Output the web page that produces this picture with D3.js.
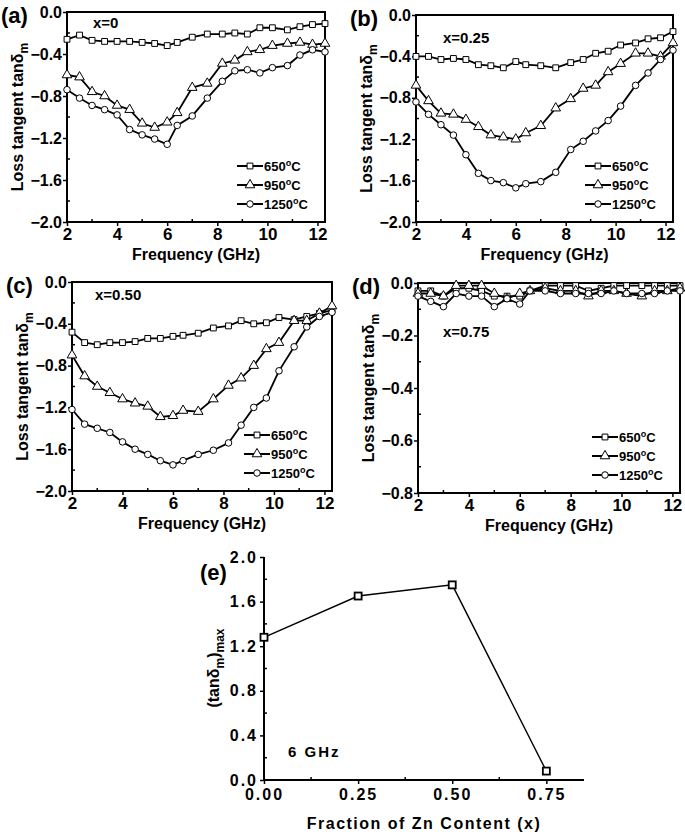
<!DOCTYPE html>
<html>
<head>
<meta charset="utf-8">
<script src="https://cdn.jsdelivr.net/npm/d3@7"></script>
<style>
  body { margin: 0; background: #fff; }
  svg text { font-family: "Liberation Sans", Arial, sans-serif; font-weight: bold; fill: #000; }
</style>
</head>
<body>
<svg id="fig" width="685" height="835"></svg>
<script>
// frequency points (GHz), shared by all four spectra
var freq = [2, 2.5, 3, 3.5, 4, 4.5, 5, 5.5, 6, 6.4, 7, 7.6, 8.2, 8.7, 9.2, 9.7, 10.2, 10.8, 11.3, 11.8, 12.3]
var tempLabels = ["650", "950", "1250"]

// x=0
var a650 = [-0.26,-0.22,-0.27,-0.28,-0.28,-0.28,-0.29,-0.30,-0.32,-0.29,-0.24,-0.21,-0.21,-0.20,-0.21,-0.15,-0.15,-0.17,-0.14,-0.12,-0.11]
var a950 = [-0.60,-0.62,-0.76,-0.80,-0.89,-0.93,-1.06,-1.10,-1.05,-0.96,-0.72,-0.68,-0.49,-0.46,-0.38,-0.36,-0.32,-0.30,-0.29,-0.31,-0.30]
var a1250 = [-0.74,-0.82,-0.89,-0.93,-0.98,-1.12,-1.17,-1.21,-1.26,-1.08,-0.99,-0.82,-0.66,-0.56,-0.55,-0.58,-0.53,-0.51,-0.41,-0.36,-0.38]
// x=0.25
var b650 = [-0.40,-0.40,-0.43,-0.42,-0.43,-0.48,-0.49,-0.51,-0.45,-0.48,-0.49,-0.51,-0.46,-0.43,-0.37,-0.35,-0.29,-0.27,-0.23,-0.22,-0.16]
var b950 = [-0.68,-0.83,-0.95,-0.96,-1.01,-1.08,-1.16,-1.18,-1.20,-1.14,-1.07,-0.90,-0.81,-0.71,-0.68,-0.55,-0.47,-0.37,-0.37,-0.40,-0.27]
var b1250 = [-0.84,-0.96,-1.06,-1.16,-1.35,-1.53,-1.60,-1.62,-1.67,-1.63,-1.61,-1.52,-1.30,-1.22,-1.12,-1.02,-0.88,-0.68,-0.56,-0.43,-0.34]
// x=0.50
var c650 = [-0.48,-0.58,-0.60,-0.58,-0.58,-0.57,-0.54,-0.54,-0.52,-0.51,-0.49,-0.44,-0.42,-0.37,-0.40,-0.39,-0.34,-0.36,-0.33,-0.30,-0.27]
var c950 = [-0.70,-0.90,-1.00,-1.06,-1.12,-1.16,-1.19,-1.29,-1.28,-1.23,-1.24,-1.12,-0.99,-0.92,-0.80,-0.64,-0.58,-0.37,-0.37,-0.30,-0.23]
var c1250 = [-1.22,-1.36,-1.40,-1.44,-1.53,-1.60,-1.65,-1.71,-1.75,-1.71,-1.65,-1.61,-1.54,-1.37,-1.20,-1.11,-0.85,-0.62,-0.43,-0.33,-0.29]
// x=0.75
var d650 = [-0.03,-0.03,-0.05,-0.02,-0.02,-0.03,-0.05,-0.05,-0.05,-0.03,-0.01,-0.01,-0.01,-0.03,-0.02,-0.01,-0.01,-0.01,-0.01,-0.01,-0.01]
var d950 = [-0.04,-0.04,-0.05,-0.01,-0.01,-0.01,-0.04,-0.06,-0.04,-0.03,-0.02,-0.03,-0.03,-0.05,-0.03,-0.03,-0.04,-0.05,-0.03,-0.03,-0.02]
var d1250 = [-0.05,-0.07,-0.09,-0.04,-0.05,-0.05,-0.09,-0.06,-0.08,-0.03,-0.03,-0.04,-0.04,-0.04,-0.04,-0.03,-0.04,-0.04,-0.04,-0.03,-0.03]

// panel (e): max loss tangent at 6 GHz vs Zn fraction
var znFraction = [0, 0.25, 0.50, 0.75]
var tanMax = [1.28, 1.65, 1.75, 0.08]
var znTicks = [0, 0.25, 0.5, 0.75]
var tanTicks = [0, 0.4, 0.8, 1.2, 1.6, 2.0]

var svg = d3.select("#fig")
var symbols = [d3.symbolSquare, d3.symbolTriangle, d3.symbolCircle]
var symSize = [34, 40, 34]

var panels = [
  {tag: "(a)", note: "x=0", series: [a650, a950, a1250], box: [67, 12, 325, 222], ymin: -2.0, yticks: [0, -0.4, -0.8, -1.2, -1.6, -2.0], note_dx: 26, note_dy: 16},
  {tag: "(b)", note: "x=0.25", series: [b650, b950, b1250], box: [416, 15, 673, 222], ymin: -2.0, yticks: [0, -0.4, -0.8, -1.2, -1.6, -2.0], note_dx: 27, note_dy: 28},
  {tag: "(c)", note: "x=0.50", series: [c650, c950, c1250], box: [72, 282, 332, 491], ymin: -2.0, yticks: [0, -0.4, -0.8, -1.2, -1.6, -2.0], note_dx: 23, note_dy: 18},
  {tag: "(d)", note: "x=0.75", series: [d650, d950, d1250], box: [418, 283, 680, 493], ymin: -0.8, yticks: [0, -0.2, -0.4, -0.6, -0.8], note_dx: 25, note_dy: 54}
]

function minorTicks(g, vals, orient, len) {
  // small inward ticks between the labelled ones
  g.selectAll(null).data(vals).join("line")
    .attr("stroke", "#000").attr("stroke-width", 1.5)
    .attr("x1", function(d) { return orient == "x" ? d.p : 0 })
    .attr("x2", function(d) { return orient == "x" ? d.p : len })
    .attr("y1", function(d) { return orient == "x" ? 0 : d.p })
    .attr("y2", function(d) { return orient == "x" ? -len : d.p })
}

function drawPanel(p) {
  var L = p.box[0], T = p.box[1], R = p.box[2], B = p.box[3]
  var x = d3.scaleLinear().domain([2, 12.3]).range([L, R])
  var y = d3.scaleLinear().domain([p.ymin, 0]).range([B, T])
  var g = svg.append("g")

  var step = p.yticks[0] - p.yticks[1]

  var xAxis = g.append("g").attr("transform", "translate(0," + B + ")")
    .call(d3.axisBottom(x).tickValues([2, 4, 6, 8, 10, 12]).tickSize(4).tickPadding(2).tickFormat(d3.format("d")))
  xAxis.select(".domain").remove()
  xAxis.selectAll("text").attr("font-size", 17)
  minorTicks(xAxis, [3, 5, 7, 9, 11].map(function(v) { return {p: x(v)} }), "x", 3)

  var yAxis = g.append("g").attr("transform", "translate(" + L + ",0)")
    .call(d3.axisLeft(y).tickValues(p.yticks).tickSize(4).tickPadding(1).tickFormat(d3.format(".1f")))
  yAxis.select(".domain").remove()
  yAxis.selectAll("text").attr("font-size", 16)
  var ymin = p.yticks.slice(0, -1).map(function(v) { return {p: y(v - step / 2)} })
  minorTicks(yAxis, ymin, "y", 3)
  g.selectAll(".tick line").attr("stroke-width", 1.5)

  g.append("rect").attr("x", L).attr("y", T).attr("width", R - L).attr("height", B - T)
    .attr("fill", "none").attr("stroke", "#000").attr("stroke-width", 2)

  var line = d3.line().x(function(d, i) { return x(freq[i]) }).y(function(d) { return y(d) })

  p.series.forEach(function(s, k) {
    g.append("path").datum(s).attr("d", line)
      .attr("fill", "none").attr("stroke", "#000").attr("stroke-width", 1.8)
    g.selectAll(null).data(s).join("path")
      .attr("transform", function(d, i) { return "translate(" + x(freq[i]) + "," + y(d) + ")" })
      .attr("d", d3.symbol(symbols[k], symSize[k]))
      .attr("fill", "#fff").attr("stroke", "#000").attr("stroke-width", 1)
  })

  // legend
  tempLabels.forEach(function(t, k) {
    var ly = B - 56 + k * 19, lx = R - 88
    g.append("line").attr("x1", lx).attr("x2", lx + 26).attr("y1", ly).attr("y2", ly)
      .attr("stroke", "#000").attr("stroke-width", 2)
    g.append("path").attr("transform", "translate(" + (lx + 13) + "," + ly + ")")
      .attr("d", d3.symbol(symbols[k], symSize[k]))
      .attr("fill", "#fff").attr("stroke", "#000").attr("stroke-width", 1)
    var tx = g.append("text").attr("x", lx + 27).attr("y", ly + 5).attr("font-size", 13).text(t)
    tx.append("tspan").attr("dy", -5).attr("font-size", 9).text("o")
    tx.append("tspan").attr("dy", 5).text("C")
  })

  g.append("text").attr("x", L + p.note_dx).attr("y", T + p.note_dy)
    .attr("font-size", 15).text(p.note)

  g.append("text").attr("x", L - 66).attr("y", T + 11).attr("font-size", 22).text(p.tag)

  g.append("text").attr("x", (L + R) / 2).attr("y", B + 38).attr("text-anchor", "middle")
    .attr("font-size", 16).text("Frequency (GHz)")

  var yt = g.append("text").attr("transform", "translate(" + (L - 44) + "," + ((T + B) / 2) + ") rotate(-90)")
    .attr("text-anchor", "middle").attr("font-size", 16).text("Loss tangent tanδ")
  yt.append("tspan").attr("dy", 5).attr("font-size", 12).text("m")
}

panels.forEach(drawPanel)

// panel (e)
var ex = d3.scaleLinear().domain([0, 0.85]).range([264, 584])
var ey = d3.scaleLinear().domain([0, 2.0]).range([780, 557])
var ge = svg.append("g")

var exAxis = ge.append("g").attr("transform", "translate(0,780)")
  .call(d3.axisBottom(ex).tickValues(znTicks).tickSize(4).tickPadding(5).tickFormat(d3.format(".2f")))
exAxis.select(".domain").attr("stroke-width", 2).attr("d", "M264,0H584")
exAxis.selectAll("text").attr("font-size", 16).attr("letter-spacing", 2)
minorTicks(exAxis, [0.125, 0.375, 0.625].map(function(v) { return {p: ex(v)} }), "x", 3)

var eyAxis = ge.append("g").attr("transform", "translate(264,0)")
  .call(d3.axisLeft(ey).tickValues(tanTicks).tickSize(4).tickPadding(2).tickFormat(d3.format(".1f")))
eyAxis.select(".domain").attr("stroke-width", 2).attr("d", "M0,780V557")
eyAxis.selectAll("text").attr("font-size", 16).attr("letter-spacing", 2)
minorTicks(eyAxis, [0.2, 0.6, 1.0, 1.4, 1.8].map(function(v) { return {p: ey(v)} }), "y", 3)
ge.selectAll(".tick line").attr("stroke-width", 1.5)

ge.append("path").datum(tanMax)
  .attr("d", d3.line().x(function(d, i) { return ex(znFraction[i]) }).y(function(d) { return ey(d) }))
  .attr("fill", "none").attr("stroke", "#000").attr("stroke-width", 1.4)
ge.selectAll(null).data(tanMax).join("rect")
  .attr("x", function(d, i) { return ex(znFraction[i]) - 3.5 })
  .attr("y", function(d) { return ey(d) - 3.5 })
  .attr("width", 7).attr("height", 7)
  .attr("fill", "#fff").attr("stroke", "#000").attr("stroke-width", 1.8)

ge.append("text").attr("x", 288).attr("y", 757).attr("font-size", 15).attr("letter-spacing", 2).text("6 GHz")
ge.append("text").attr("x", 200).attr("y", 580).attr("font-size", 22).text("(e)")
ge.append("text").attr("x", 424).attr("y", 829).attr("text-anchor", "middle")
  .attr("font-size", 16).attr("letter-spacing", 1.5).text("Fraction of Zn Content (x)")
var et = ge.append("text").attr("transform", "translate(219,668) rotate(-90)")
  .attr("text-anchor", "middle").attr("font-size", 16).text("(tanδ")
et.append("tspan").attr("dy", 5).attr("font-size", 12).text("m")
et.append("tspan").attr("dy", -5).text(")")
et.append("tspan").attr("dy", 5).attr("font-size", 12).text("max")
</script>
</body>
</html>
